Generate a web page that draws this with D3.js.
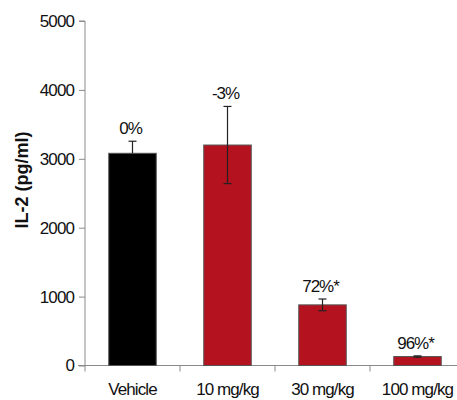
<!DOCTYPE html>
<html><head><meta charset="utf-8">
<script src="https://cdn.jsdelivr.net/npm/d3@7"></script>
<style>
body{margin:0;background:#fff;}
text{font-family:"Liberation Sans",Arial,sans-serif;fill:#111;}
</style></head>
<body><svg id="c" width="457" height="400"></svg>
<script>
const categories = ["Vehicle", "10 mg/kg", "30 mg/kg", "100 mg/kg"];
const values = [3080, 3200, 880, 130];
const errors = [175, 560, 85, 10];
const labels = ["0%", "-3%", "72%*", "96%*"];
const colors = ["#000000", "#b5121f", "#b5121f", "#b5121f"];
const yTicks = [0, 1000, 2000, 3000, 4000, 5000];

const svg = d3.select("#c");
const x0 = 85, x1 = 465, yTop = 21, yBot = 365.5;
const x = d3.scaleBand().domain(categories).range([x0, x1]).paddingInner(0.5).paddingOuter(0.25);
const y = d3.scaleLinear().domain([0, 5000]).range([yBot, yTop]);

// y axis
const ya = svg.append("g").attr("transform", `translate(${x0},0)`)
  .call(d3.axisLeft(y).tickValues(yTicks).tickSize(6).tickPadding(5).tickFormat(d3.format("d")));
ya.select(".domain").attr("stroke", "#8a8a8a").attr("d", `M-6,${yTop}H0V${yBot}`);
ya.selectAll(".tick line").attr("stroke", "#8a8a8a");
ya.selectAll(".tick text").attr("font-size", 17).attr("letter-spacing", "-0.9px")
  .attr("font-family", "Liberation Sans, Arial, sans-serif").attr("fill", "#111");

// x axis line and boundary ticks
const bounds = categories.map(c => x(c) - x.step() * x.paddingInner() / 2);
const xg = svg.append("g");
xg.append("line").attr("x1", x0 - 7).attr("x2", 457).attr("y1", yBot).attr("y2", yBot).attr("stroke", "#8a8a8a");
xg.selectAll("line.t").data(bounds).enter().append("line").attr("class", "t")
  .attr("x1", d => d).attr("x2", d => d).attr("y1", yBot).attr("y2", yBot + 6).attr("stroke", "#8a8a8a");
xg.selectAll("text").data(categories).enter().append("text")
  .attr("x", d => x(d) + x.bandwidth() / 2).attr("y", 395)
  .attr("text-anchor", "middle").attr("font-size", 17).attr("letter-spacing", "-0.9px").text(d => d);

// bars
svg.selectAll("rect.bar").data(categories).enter().append("rect").attr("class", "bar")
  .attr("x", d => x(d)).attr("width", x.bandwidth())
  .attr("y", (d, i) => y(values[i])).attr("height", (d, i) => yBot - y(values[i]))
  .attr("fill", (d, i) => colors[i]).attr("stroke", "#555").attr("stroke-width", 1);

// error bars
const eg = svg.append("g").attr("stroke", "#222").attr("stroke-width", 1.2);
categories.forEach((c, i) => {
  const cx = x(c) + x.bandwidth() / 2;
  const lo = i === 0 ? values[i] : values[i] - errors[i];
  const hi = values[i] + errors[i];
  eg.append("line").attr("x1", cx).attr("x2", cx).attr("y1", y(lo)).attr("y2", y(hi));
  eg.append("line").attr("x1", cx - 4).attr("x2", cx + 4).attr("y1", y(hi)).attr("y2", y(hi));
  if (i !== 0) eg.append("line").attr("x1", cx - 4).attr("x2", cx + 4).attr("y1", y(lo)).attr("y2", y(lo));
});

// percent labels
svg.selectAll("text.pl").data(categories).enter().append("text").attr("class", "pl")
  .attr("x", d => x(d) + x.bandwidth() / 2 - 2)
  .attr("y", (d, i) => y(values[i] + errors[i]) - 7)
  .attr("text-anchor", "middle").attr("font-size", 17).attr("letter-spacing", "-1px")
  .text((d, i) => labels[i]);

// y title
svg.append("text").attr("transform", "translate(28,180) rotate(-90)")
  .attr("text-anchor", "middle").attr("font-size", 18).attr("font-weight", "bold")
  .text("IL-2 (pg/ml)");
</script></body></html>
